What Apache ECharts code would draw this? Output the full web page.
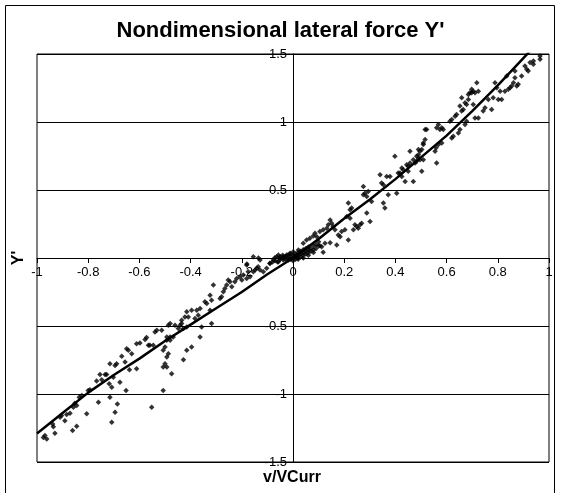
<!DOCTYPE html>
<html><head><meta charset="utf-8">
<script src="https://cdn.jsdelivr.net/npm/echarts@6/dist/echarts.min.js"></script>
<style>html,body{margin:0;padding:0;background:#fff}#c{width:561px;height:493px}</style>
</head><body><div id="c"></div>
<script>
var titleText = "Nondimensional lateral force Y'";
var xTitle = "v/VCurr";
var yTitle = "Y'";
var xTicks = [-1, -0.8, -0.6, -0.4, -0.2, 0, 0.2, 0.4, 0.6, 0.8, 1];
var yTicks = [-1.5, -1, -0.5, 0, 0.5, 1, 1.5];

// measured points (v/VCurr, Y')
var measuredNeg = [
[-0.975,-1.319],[-0.962,-1.331],[-0.969,-1.306],[-0.930,-1.289],[-0.936,-1.240],[-0.939,-1.220],
[-0.904,-1.159],[-0.910,-1.171],[-0.891,-1.196],[-0.884,-1.151],[-0.871,-1.141],[-0.861,-1.269],
[-0.845,-1.237],[-0.858,-1.097],[-0.852,-1.068],[-0.845,-1.085],[-0.835,-1.023],[-0.825,-1.011],
[-0.806,-1.146],[-0.800,-0.974],[-0.793,-0.969],[-0.767,-0.905],[-0.760,-1.060],[-0.747,-0.895],
[-0.754,-0.856],[-0.734,-0.856],[-0.728,-0.856],[-0.718,-0.925],[-0.715,-1.023],[-0.708,-0.950],
[-0.708,-1.208],[-0.702,-0.876],[-0.695,-1.134],[-0.686,-1.073],[-0.715,-0.777],[-0.695,-0.790],
[-0.689,-0.777],[-0.676,-0.913],[-0.669,-0.723],[-0.656,-0.765],[-0.652,-0.974],[-0.650,-0.667],
[-0.643,-0.679],[-0.639,-0.822],[-0.630,-0.704],[-0.611,-0.814],[-0.611,-0.630],[-0.598,-0.625],
[-0.578,-0.600],[-0.572,-0.585],[-0.565,-0.642],[-0.559,-0.642],[-0.552,-1.097],[-0.546,-0.642],
[-0.539,-0.544],[-0.532,-0.531],[-0.513,-0.531],[-0.507,-0.679],[-0.507,-0.974],[-0.500,-0.654],
[-0.493,-0.728],[-0.500,-0.777],[-0.507,-0.802],[-0.487,-0.494],[-0.493,-0.605],[-0.480,-0.581],
[-0.493,-0.802],[-0.474,-0.851],[-0.487,-0.704],[-0.493,-0.581],[-0.480,-0.605],[-0.468,-0.581],
[-0.461,-0.494],[-0.480,-0.482],[-0.448,-0.519],[-0.441,-0.494],[-0.435,-0.482],[-0.428,-0.519],
[-0.415,-0.507],[-0.435,-0.458],[-0.422,-0.433],[-0.409,-0.433],[-0.415,-0.396],[-0.396,-0.384],
[-0.376,-0.384],[-0.363,-0.371],[-0.370,-0.421],[-0.383,-0.445],[-0.357,-0.507],[-0.363,-0.581],
[-0.396,-0.654],[-0.415,-0.679],[-0.428,-0.748],[-0.344,-0.322],[-0.337,-0.334],[-0.324,-0.384],
[-0.318,-0.310],[-0.324,-0.273],[-0.311,-0.199],[-0.318,-0.482],[-0.285,-0.297],[-0.279,-0.285],
[-0.272,-0.249],[-0.266,-0.224],[-0.259,-0.199],[-0.253,-0.162],[-0.246,-0.175],[-0.239,-0.212],
[-0.227,-0.175],[-0.220,-0.150],[-0.207,-0.138],[-0.200,-0.162],[-0.194,-0.125],[-0.181,-0.150],
[-0.168,-0.138],[-0.175,-0.101],[-0.155,-0.101],[-0.148,-0.089],[-0.142,-0.076],[-0.136,-0.064],
[-0.129,-0.089],[-0.116,-0.101],[-0.181,-0.052],[-0.129,-0.015],[-0.103,-0.076],[-0.090,-0.039],
[-0.077,-0.015],[-0.064,0.010],[-0.057,0.022],[-0.051,-0.002],[-0.038,0.010],[-0.025,0.022],
[-0.012,0.035],[-0.038,-0.015],[-0.018,-0.015],[-0.071,0.002],[-0.057,-0.027],
[-0.180,-0.045],[-0.135,0.000],[-0.155,0.010]
];
var measuredCenter = [
[-0.09,-0.04],[-0.08,-0.03],[-0.07,-0.02],[-0.06,-0.03],[-0.05,-0.01],[-0.05,0.01],[-0.04,0.00],
[-0.04,0.02],[-0.03,-0.01],[-0.03,0.01],[-0.02,0.00],[-0.02,0.02],[-0.01,-0.01],[-0.01,0.01],
[-0.01,0.03],[0.00,0.00],[0.00,0.02],[0.00,-0.02],[0.01,0.01],[0.01,0.03],[0.01,-0.01],[0.02,0.00],
[0.02,0.02],[0.02,0.04],[0.03,0.01],[0.03,0.03],[0.03,0.05],[0.04,0.02],[0.04,0.04],[0.04,0.06],
[0.05,0.03],[0.05,0.05],[0.05,0.07],[0.06,0.04],[0.06,0.06],[0.06,0.08],[0.07,0.05],[0.07,0.07],
[0.08,0.06],[0.08,0.09],[0.09,0.07],[0.09,0.10],[0.10,0.09],[0.10,0.12],[0.02,-0.01],[0.04,0.00],
[0.06,0.02],[0.08,0.04],[0.001,0.046],[0.014,0.022],[0.021,0.059]
];
var measuredPos = [
[0.040,0.108],[0.053,0.133],[0.066,0.145],[0.079,0.162],[0.086,0.182],[0.093,0.157],[0.105,0.194],
[0.112,0.083],[0.118,0.207],[0.125,0.108],[0.132,0.219],[0.138,0.244],[0.145,0.280],[0.151,0.256],
[0.157,0.231],[0.164,0.207],[0.171,0.096],[0.177,0.170],[0.184,0.157],[0.190,0.194],[0.203,0.207],
[0.210,0.305],[0.216,0.133],[0.223,0.354],[0.229,0.367],[0.216,0.404],[0.223,0.293],[0.236,0.207],
[0.242,0.244],[0.249,0.231],[0.255,0.219],[0.262,0.244],[0.268,0.256],[0.275,0.526],[0.275,0.465],
[0.281,0.477],[0.288,0.452],[0.294,0.489],[0.288,0.330],[0.301,0.268],[0.307,0.416],[0.340,0.613],
[0.346,0.551],[0.353,0.539],[0.353,0.404],[0.359,0.367],[0.366,0.600],[0.372,0.465],[0.379,0.600],
[0.398,0.748],[0.405,0.477],[0.411,0.625],[0.418,0.625],[0.425,0.600],[0.431,0.649],[0.438,0.563],
[0.444,0.686],[0.450,0.674],[0.457,0.785],[0.470,0.563],[0.477,0.699],[0.483,0.711],[0.490,0.797],
[0.490,0.760],[0.118,0.042],[0.145,0.113],[0.105,0.090],
[0.450,0.637],[0.425,0.662],[0.457,0.699],[0.470,0.723],[0.483,0.748],[0.490,0.736],[0.496,0.723],
[0.503,0.637],[0.509,0.723],[0.496,0.785],[0.503,0.797],[0.509,0.834],[0.516,0.871],[0.509,0.846],
[0.522,0.945],[0.516,0.945],[0.555,0.785],[0.561,0.699],[0.559,0.810],[0.568,0.834],[0.561,0.957],
[0.568,0.982],[0.574,0.945],[0.581,0.957],[0.587,0.945],[0.581,0.846],[0.613,1.006],[0.620,1.018],
[0.620,0.883],[0.626,0.895],[0.633,1.043],[0.639,1.055],[0.646,0.920],[0.652,0.945],[0.659,1.080],
[0.652,1.117],[0.659,1.179],[0.665,1.092],[0.672,0.982],[0.678,1.006],[0.672,1.142],[0.678,1.129],
[0.685,1.166],[0.685,1.203],[0.691,1.215],[0.698,1.215],[0.698,1.240],[0.704,1.227],[0.711,1.215],
[0.718,1.289],[0.724,1.227],[0.704,1.129],[0.711,1.030],[0.724,1.030],[0.743,1.080],[0.750,1.105],
[0.763,1.166],[0.776,1.092],[0.782,1.179],[0.789,1.289],[0.796,1.252],[0.802,1.166],[0.815,1.166],
[0.809,1.227],[0.828,1.227],[0.835,1.338],[0.841,1.240],[0.848,1.252],[0.854,1.264],[0.861,1.289],
[0.867,1.326],[0.874,1.264],[0.867,1.375],[0.880,1.277],[0.893,1.338],[0.906,1.412],[0.913,1.387],
[0.919,1.375],[0.926,1.437],[0.939,1.424],[0.939,1.449],[0.965,1.486],[0.965,1.461]
];
// fitted curve
var fitX = [-1, -0.9, -0.8, -0.7, -0.6, -0.5, -0.4, -0.3, -0.2, -0.1, 0, 0.1, 0.2, 0.3, 0.4, 0.5, 0.6, 0.7, 0.8, 0.9, 0.93];
var fitY = [-1.29, -1.14, -0.99, -0.86, -0.74, -0.61, -0.49, -0.37, -0.25, -0.12, 0, 0.14, 0.29, 0.43, 0.58, 0.74, 0.9, 1.08, 1.27, 1.47, 1.53];

var fitData = fitX.map(function(x, i){ return [x, fitY[i]]; });
var points = measuredNeg.concat(measuredCenter, measuredPos);

var GRID = {left: 37, top: 54, width: 512, height: 408};
var chart = echarts.init(document.getElementById('c'), null, {renderer:'canvas'});
chart.setOption({
  animation: false,
  backgroundColor: '#fff',
  title: {
    text: titleText, left: 'center', top: 15,
    textStyle: {fontFamily: 'Liberation Sans, Arial', fontWeight: 'bold', fontSize: 22, color: '#000'}
  },
  grid: {left: GRID.left, top: GRID.top, width: GRID.width, height: GRID.height, show: true, borderColor: '#000', borderWidth: 1, backgroundColor: 'transparent'},
  xAxis: {
    type: 'value', min: xTicks[0], max: xTicks[xTicks.length-1], interval: 0.2,
    position: 'bottom', offset: -GRID.height / 2,
    axisLine: {onZero: false, lineStyle: {color: '#000', width: 1}},
    axisTick: {show: true, length: 5, lineStyle: {color: '#000'}},
    splitLine: {show: false},
    axisLabel: {color: '#000', fontFamily: 'Liberation Sans, Arial', fontSize: 13, margin: 8,
      formatter: function(v){ return String(Math.round(v*10)/10); }}
  },
  yAxis: {
    type: 'value', min: yTicks[0], max: yTicks[yTicks.length-1], interval: 0.5,
    position: 'left', offset: -GRID.width / 2,
    axisLine: {onZero: false, lineStyle: {color: '#000', width: 1}},
    axisTick: {show: true, length: 5, lineStyle: {color: '#000'}},
    splitLine: {show: true, lineStyle: {color: '#000', width: 1}},
    axisLabel: {color: '#000', fontFamily: 'Liberation Sans, Arial', fontSize: 13, margin: 6,
      formatter: function(v){ return v === 0 ? '' : String(v); }}
  },
  graphic: [
    {type: 'rect', shape: {x: 5.5, y: 5.5, width: 549, height: 500}, style: {fill: 'none', stroke: '#000', lineWidth: 1}, silent: true},
    {type: 'text', x: 292, y: 478, style: {text: xTitle, fill: '#000', font: 'bold 16px "Liberation Sans", Arial', textAlign: 'center', textVerticalAlign: 'middle'}},
    {type: 'text', x: 19, y: 258, rotation: Math.PI/2, style: {text: yTitle, fill: '#000', font: 'bold 16px "Liberation Sans", Arial', textAlign: 'center', textVerticalAlign: 'middle'}}
  ],
  series: [
    {type: 'scatter', data: points, symbol: 'diamond', symbolSize: 5.5, itemStyle: {color: '#000'}, z: 3},
    {type: 'line', data: fitData, symbol: 'none', smooth: false, clip: true, lineStyle: {color: '#000', width: 2.5}, z: 4}
  ]
});
</script></body></html>
